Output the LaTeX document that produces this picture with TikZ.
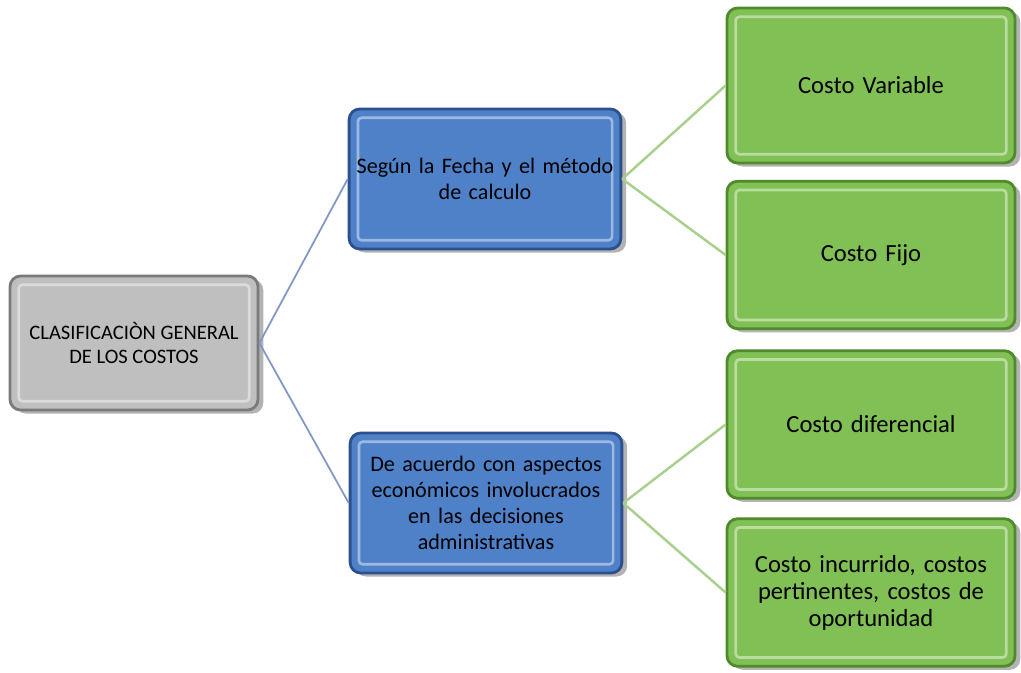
\documentclass[tikz,border=0pt]{standalone}
\usepackage{fontspec}
\setmainfont{Carlito}
\usetikzlibrary{shadows}
\definecolor{boxGray}{HTML}{BFBFBF}
\definecolor{boxGrayDark}{HTML}{7A7A7A}
\definecolor{boxBlue}{HTML}{4F81C9}
\definecolor{boxBlueDark}{HTML}{2C4F8E}
\definecolor{boxGreen}{HTML}{80C055}
\definecolor{boxGreenDark}{HTML}{4F8A2C}
\definecolor{lineBlue}{HTML}{8296C6}
\definecolor{lineGreen}{HTML}{A8D08D}

\tikzset{
    bevelbox/.style={rectangle, rounded corners=6pt, align=center, line width=1.6pt,
        drop shadow={shadow xshift=3pt, shadow yshift=-2pt, opacity=0.6},
        path picture={\draw[white, opacity=0.45, line width=1.5pt, rounded corners=2pt]
            ([shift={(5pt,-5pt)}]path picture bounding box.north west) rectangle
            ([shift={(-5pt,5pt)}]path picture bounding box.south east);}},
    rootbox/.style={bevelbox, fill=boxGray, draw=boxGrayDark, minimum width=4.96cm,
        minimum height=2.68cm, font=\fontsize{11.7}{14}\selectfont},
    midbox/.style={bevelbox, fill=boxBlue, draw=boxBlueDark, minimum width=5.4cm,
        minimum height=2.8cm, text width=5.2cm, font=\fontsize{12.6}{14.7}\selectfont},
    leafbox/.style={bevelbox, fill=boxGreen, draw=boxGreenDark, minimum width=5.76cm,
        minimum height=2.95cm, text width=5.4cm, font=\fontsize{14}{15.4}\selectfont},
    bluelink/.style={draw=lineBlue, line width=1pt},
    greenlink/.style={draw=lineGreen, line width=1.4pt}
}

\begin{document}
\begin{tikzpicture}
        \useasboundingbox (0,0) rectangle (20.42,13.44);

        % root
        \node[rootbox] (root) at (2.68,6.58) {CLASIFICACIÒN GENERAL\\DE LOS COSTOS};

        % second level
        \node[midbox] (fecha) at (9.70,9.86) {Según la Fecha y el método\\de calculo};
        \node[midbox] (acuerdo) at (9.72,3.38) {De acuerdo con aspectos\\económicos involucrados\\en las decisiones\\administrativas};

        % leaves
        \node[leafbox, minimum height=3.1cm] (variable) at (17.42,11.73) {Costo Variable};
        \node[leafbox] (fijo) at (17.42,8.34) {Costo Fijo};
        \node[leafbox] (diferencial) at (17.42,4.95) {Costo diferencial};
        \node[leafbox] (incurrido) at (17.42,1.59) {Costo incurrido, costos\\pertinentes, costos de\\oportunidad};

        % links
        \draw[bluelink] (root.east) -- (fecha.west);
        \draw[bluelink] (root.east) -- (acuerdo.west);
        \draw[greenlink] (fecha.east) -- (variable.west);
        \draw[greenlink] (fecha.east) -- (fijo.west);
        \draw[greenlink] (acuerdo.east) -- (diferencial.west);
        \draw[greenlink] (acuerdo.east) -- (incurrido.west);

\end{tikzpicture}
\end{document}
